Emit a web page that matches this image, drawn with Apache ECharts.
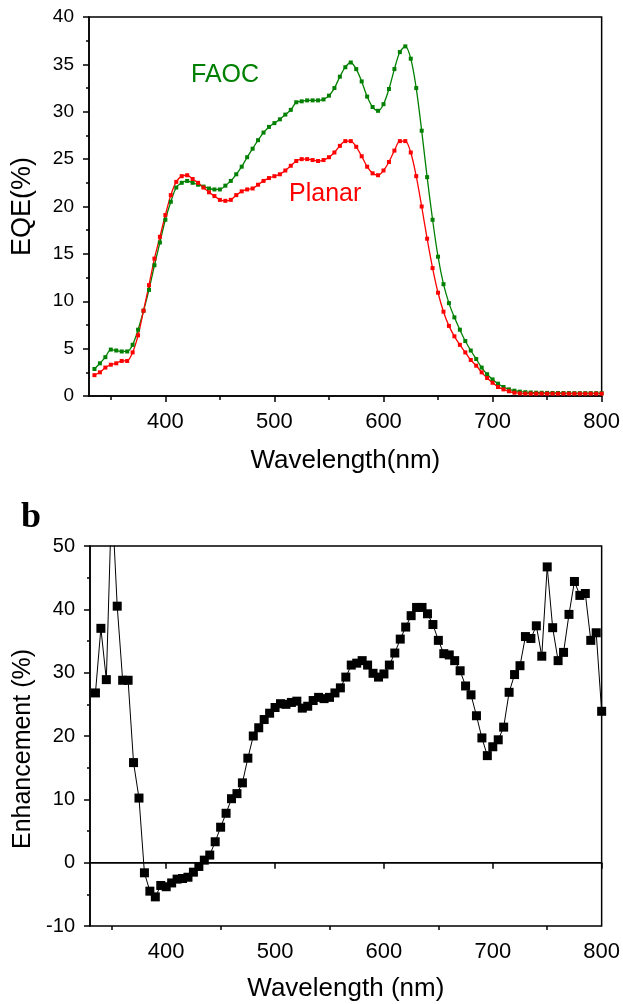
<!DOCTYPE html>
<html>
<head>
<meta charset="utf-8">
<script src="https://cdn.jsdelivr.net/npm/echarts@6/dist/echarts.min.js"></script>
<style>
  html, body { margin: 0; padding: 0; background: #fff; }
  #chart { width: 623px; height: 1004px; }
</style>
</head>
<body>
<div id="chart"></div>
<script>
// Wavelength grid shared by both panels (nm)
const wavelengths = [
  335, 340, 345, 350, 355, 360, 365, 370, 375, 380,
  385, 390, 395, 400, 405, 410, 415, 420, 425, 430,
  435, 440, 445, 450, 455, 460, 465, 470, 475, 480,
  485, 490, 495, 500, 505, 510, 515, 520, 525, 530,
  535, 540, 545, 550, 555, 560, 565, 570, 575, 580,
  585, 590, 595, 600, 605, 610, 615, 620, 625, 630,
  635, 640, 645, 650, 655, 660, 665, 670, 675, 680,
  685, 690, 695, 700, 705, 710, 715, 720, 725, 730,
  735, 740, 745, 750, 755, 760, 765, 770, 775, 780,
  785, 790, 795, 800
];

// EQE (%) of the FAOC device
const eqeFAOC = [
  2.85, 3.45, 4.1, 4.9, 4.8, 4.7, 4.7, 5.4, 7.0, 9.0,
  11.2, 13.8, 16.2, 18.6, 20.5, 22.0, 22.5, 22.7, 22.5, 22.3,
  22.1, 21.9, 21.8, 21.8, 22.2, 22.7, 23.4, 24.2, 25.2, 26.1,
  27.0, 27.8, 28.4, 28.8, 29.2, 29.7, 30.2, 31.0, 31.1, 31.2,
  31.2, 31.2, 31.3, 31.7, 32.5, 33.7, 34.7, 35.2, 34.5, 33.2,
  31.6, 30.5, 30.1, 30.8, 32.4, 34.5, 36.3, 36.9, 35.6, 32.5,
  28.0, 23.1, 18.6, 14.7, 11.8, 9.8, 8.3, 7.0, 5.8, 4.8,
  3.9, 3.0, 2.3, 1.75, 1.3, 0.95, 0.7, 0.56, 0.46, 0.4,
  0.37, 0.35, 0.34, 0.33, 0.32, 0.32, 0.31, 0.31, 0.3, 0.3,
  0.3, 0.3, 0.3, 0.3
];

// EQE (%) of the planar device
const eqePlanar = [
  2.2, 2.5, 3.0, 3.3, 3.45, 3.7, 3.7, 4.6, 6.4, 9.0,
  11.7, 14.5, 16.8, 19.1, 21.2, 22.6, 23.2, 23.3, 22.9, 22.5,
  22.0, 21.5, 21.1, 20.7, 20.6, 20.7, 21.2, 21.6, 21.8, 21.9,
  22.3, 22.7, 23.0, 23.2, 23.4, 23.8, 24.3, 24.8, 25.0, 25.0,
  24.9, 24.8, 24.9, 25.2, 25.7, 26.4, 26.9, 26.9, 26.3, 25.3,
  24.2, 23.5, 23.3, 23.8, 24.7, 25.9, 26.9, 26.9, 25.7, 23.2,
  20.0, 16.6, 13.5, 10.9, 8.9, 7.4, 6.3, 5.4, 4.6, 3.8,
  3.2, 2.5, 1.9, 1.4, 0.95, 0.7, 0.5, 0.35, 0.28, 0.25,
  0.25, 0.25, 0.25, 0.25, 0.25, 0.25, 0.25, 0.25, 0.25, 0.25,
  0.25, 0.25, 0.25, 0.25
];

// EQE enhancement (%) of FAOC over planar
const enhancement = [
  26.8, 37.0, 28.9, 58, 40.5, 28.8, 28.8, 15.8, 10.2, -1.6,
  -4.5, -5.4, -3.6, -3.8, -3.2, -2.6, -2.5, -2.3, -1.5, -0.6,
  0.4, 1.2, 3.3, 5.6, 7.8, 10.1, 10.9, 12.6, 16.5, 20.0,
  21.3, 22.6, 23.6, 24.5, 25.1, 25.0, 25.3, 25.5, 24.4, 24.7,
  25.6, 26.1, 25.9, 26.1, 26.8, 27.6, 29.3, 31.2, 31.5, 31.9,
  31.2, 29.9, 29.3, 29.8, 31.2, 33.1, 35.3, 37.2, 39.0, 40.3,
  40.3, 39.3, 37.6, 35.1, 33.0, 32.8, 31.9, 30.3, 27.9, 26.5,
  23.2, 19.7, 16.9, 18.3, 19.4, 21.4, 26.9, 29.7, 31.1, 35.7,
  35.4, 37.4, 32.6, 46.7, 37.1, 31.9, 33.2, 39.2, 44.4, 42.2,
  42.5, 35.1, 36.3, 23.9
];

// Axis tick positions
const xMajorTicks = [400, 500, 600, 700, 800];
const xMinorTicks = [350, 450, 550, 650, 750];

const pairs = (xs, ys) => xs.map((x, i) => [x, ys[i]]);

const FONT = 'Liberation Sans, Arial, sans-serif';
const BLACK = '#000';

function majorXAxis(gridIndex, name, nameGap) {
  return {
    gridIndex, type: 'value', min: 330, max: 800, position: 'bottom',
    axisLine: { show: true, lineStyle: { color: BLACK, width: 1.5 } },
    axisTick: { show: true, customValues: xMajorTicks, length: 6, lineStyle: { color: BLACK, width: 1.5 } },
    axisLabel: { show: true, customValues: xMajorTicks, fontSize: 22, color: BLACK, margin: 15, fontFamily: FONT },
    splitLine: { show: false },
    name, nameLocation: 'middle', nameGap,
    nameTextStyle: { fontSize: 26, color: BLACK, fontFamily: FONT }
  };
}

function minorXAxis(gridIndex) {
  return {
    gridIndex, type: 'value', min: 330, max: 800, position: 'bottom',
    axisLine: { show: false },
    axisTick: { show: true, customValues: xMinorTicks, length: 4, lineStyle: { color: BLACK, width: 1.5 } },
    axisLabel: { show: false },
    splitLine: { show: false }
  };
}

function yAxis(gridIndex, min, max, interval, name, nameGap, nameSize, labelSize, namePadding) {
  return {
    gridIndex, type: 'value', min, max, interval,
    axisLine: { show: true, lineStyle: { color: BLACK, width: 1.5 } },
    axisTick: { show: true, length: 6, lineStyle: { color: BLACK, width: 1.5 } },
    minorTick: { show: true, splitNumber: 2, length: 3, lineStyle: { color: BLACK, width: 1.5 } },
    axisLabel: { fontSize: labelSize, color: BLACK, margin: 15, fontFamily: FONT },
    splitLine: { show: false },
    name, nameLocation: 'middle', nameGap,
    nameTextStyle: { fontSize: nameSize, color: BLACK, fontFamily: FONT, padding: namePadding }
  };
}

const chart = echarts.init(document.getElementById('chart'), null, { renderer: 'canvas' });

chart.setOption({
  animation: false,
  backgroundColor: '#fff',
  textStyle: { fontFamily: FONT },
  grid: [
    { left: 89, top: 17, width: 514, height: 379, show: true, borderColor: BLACK, borderWidth: 1.5 },
    { left: 90, top: 546, width: 514, height: 380, show: true, borderColor: BLACK, borderWidth: 1.5 }
  ],
  xAxis: [
    majorXAxis(0, 'Wavelength(nm)', 52),
    minorXAxis(0),
    majorXAxis(1, 'Wavelength (nm)', 50),
    minorXAxis(1)
  ],
  yAxis: [
    yAxis(0, 0, 40, 5, 'EQE(%)', 53, 27, 19, 0),
    yAxis(1, -10, 50, 10, 'Enhancement (%)', 52, 25, 20, [0, 26, 0, 0])
  ],
  graphic: [
    { type: 'text', left: 191, top: 63, style: { text: 'FAOC', fontSize: 25, fill: '#008000', fontFamily: FONT } },
    { type: 'text', left: 289, top: 182, style: { text: 'Planar', fontSize: 25, fill: '#ff0000', fontFamily: FONT } },
    { type: 'text', left: 21, top: 500, style: { text: 'b', fontSize: 36, fontWeight: 'bold', fill: BLACK, fontFamily: 'Liberation Serif, DejaVu Serif, serif' } }
  ],
  series: [
    {
      name: 'FAOC', type: 'line', xAxisIndex: 0, yAxisIndex: 0,
      data: pairs(wavelengths, eqeFAOC),
      smooth: 0.3, symbol: 'rect', symbolSize: 4,
      itemStyle: { color: '#008000' },
      lineStyle: { color: '#008000', width: 1.3 }
    },
    {
      name: 'Planar', type: 'line', xAxisIndex: 0, yAxisIndex: 0,
      data: pairs(wavelengths, eqePlanar),
      smooth: 0.3, symbol: 'rect', symbolSize: 4,
      itemStyle: { color: '#ff0000' },
      lineStyle: { color: '#ff0000', width: 1.3 }
    },
    {
      name: 'Enhancement', type: 'line', xAxisIndex: 2, yAxisIndex: 1,
      data: pairs(wavelengths, enhancement),
      clip: true, symbol: 'rect', symbolSize: 9,
      itemStyle: { color: BLACK },
      lineStyle: { color: BLACK, width: 1 },
      markLine: {
        silent: true, symbol: ['none', 'none'],
        label: { show: false },
        lineStyle: { color: BLACK, width: 1.2, type: 'solid' },
        data: [{ yAxis: 0 }]
      }
    }
  ]
});
</script>
</body>
</html>
